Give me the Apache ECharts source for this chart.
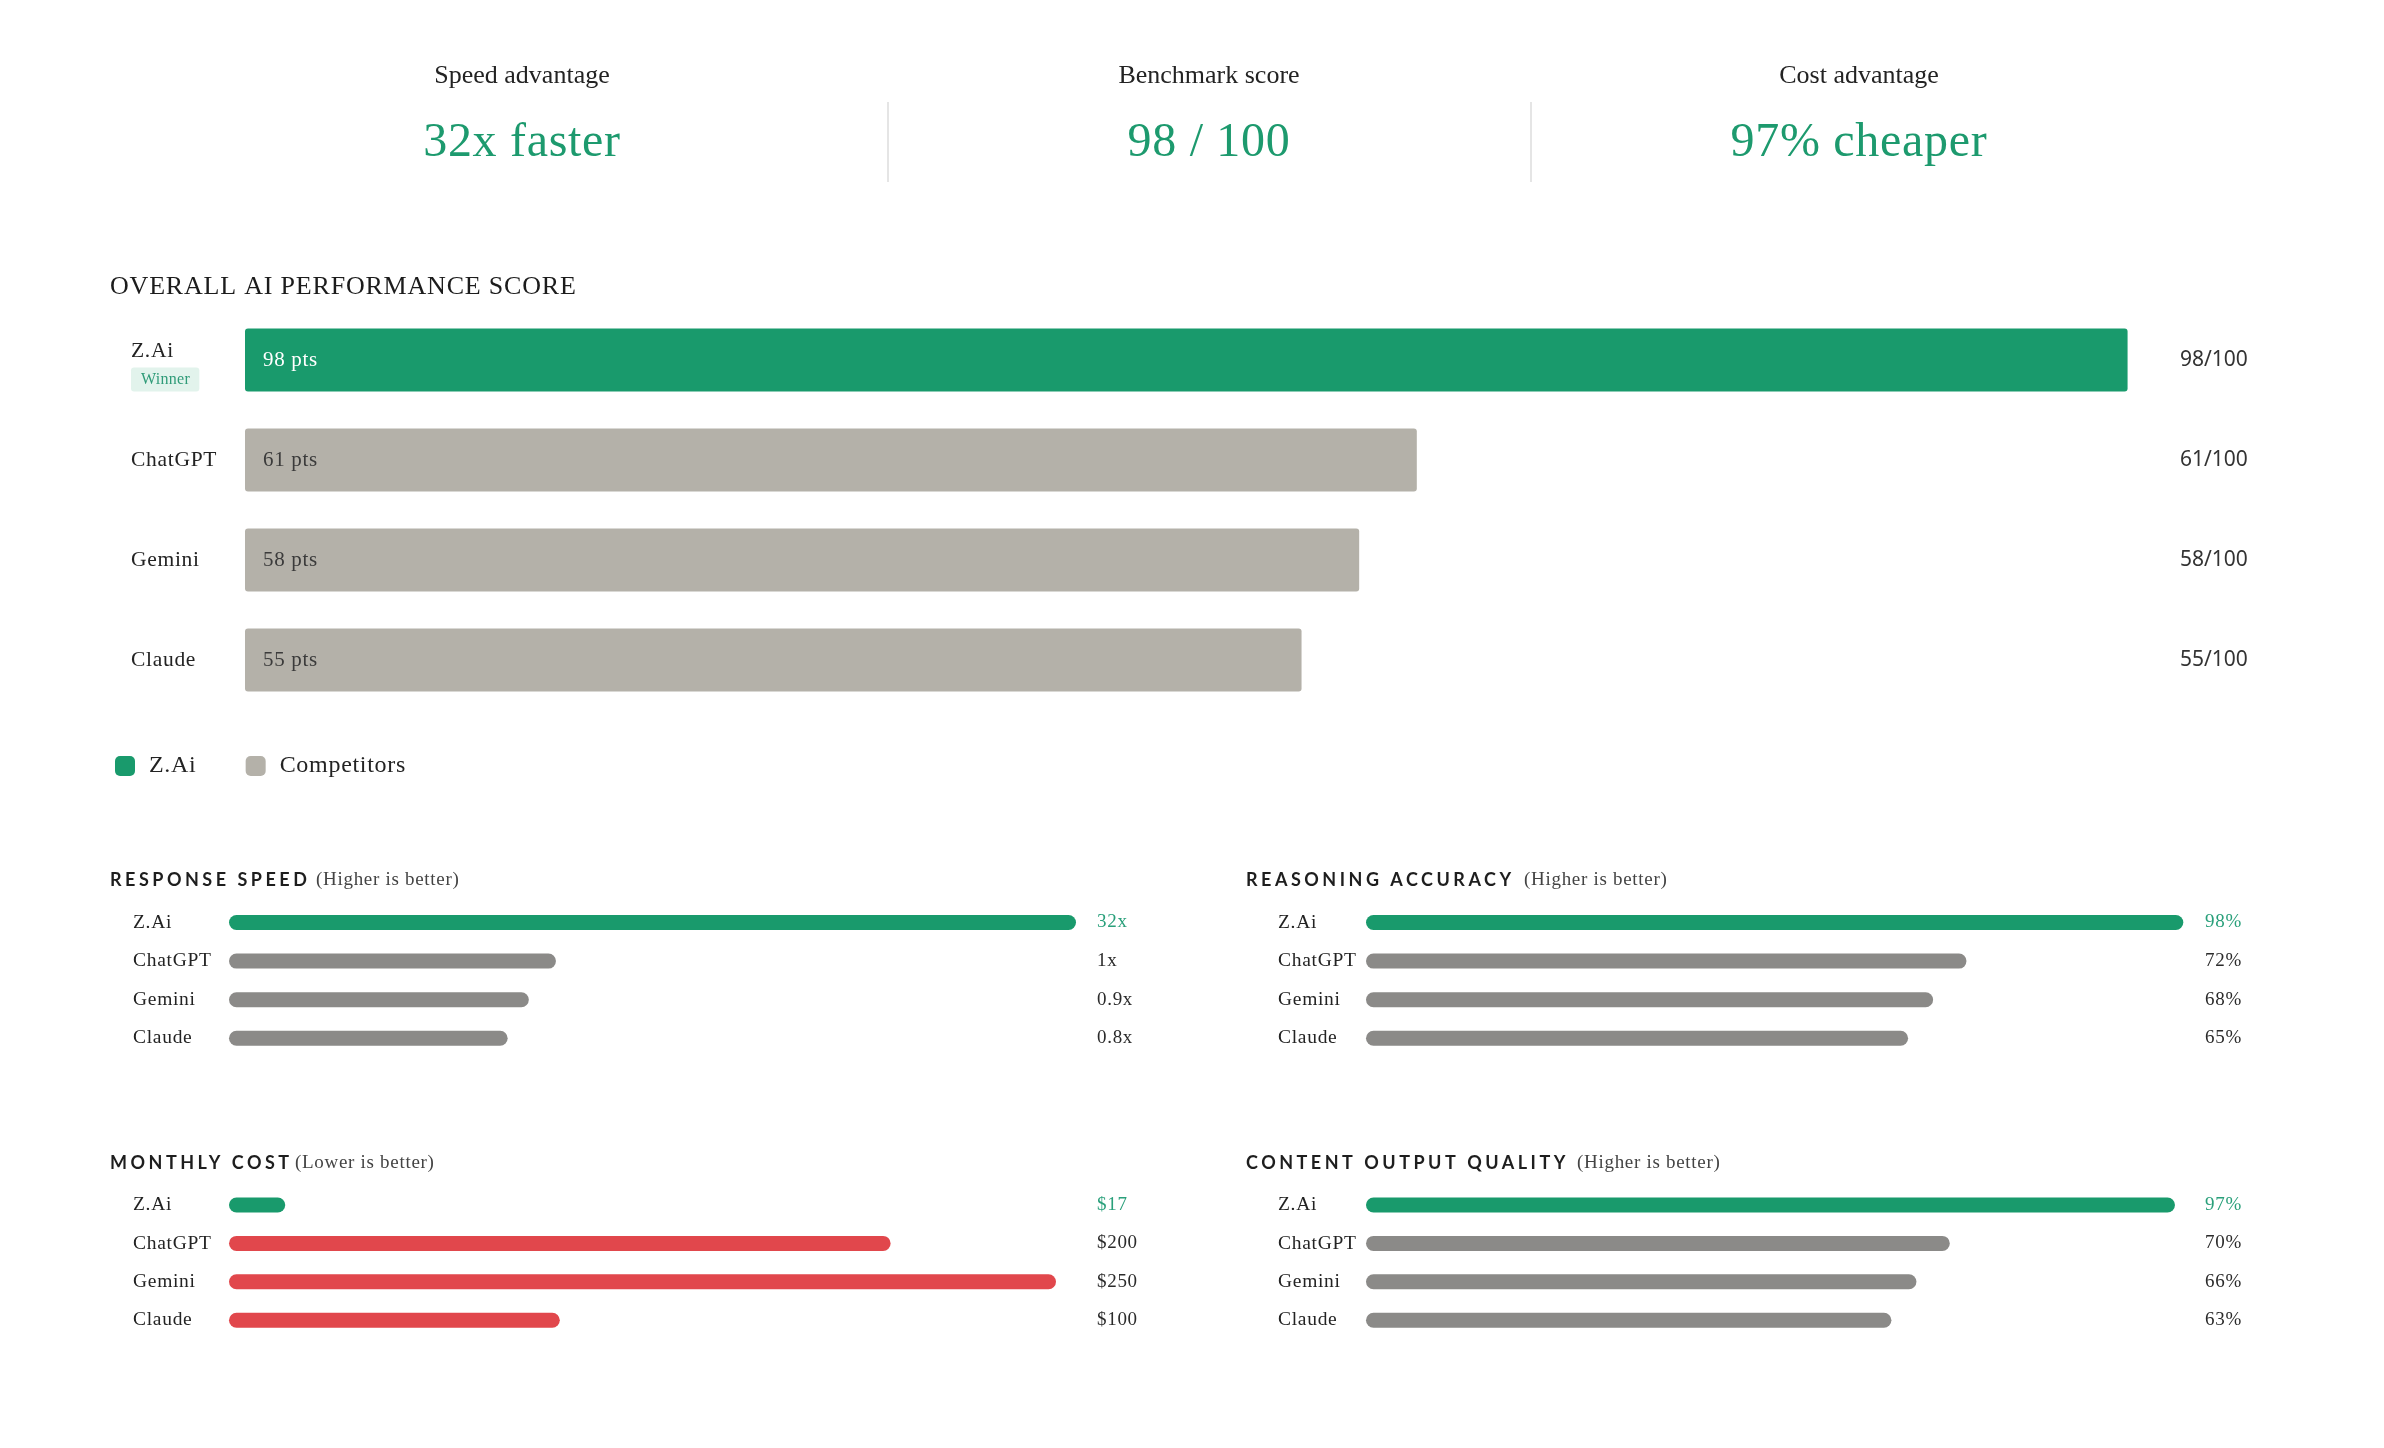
<!DOCTYPE html>
<html>
<head>
<meta charset="utf-8">
<script src="https://cdn.jsdelivr.net/npm/echarts@6/dist/echarts.min.js"></script>
<style>
html,body{margin:0;padding:0;background:#ffffff;}
#c{width:2384px;height:1448px;}
</style>
</head>
<body>
<div id="c"></div>
<script>
// ---------------- DATA ----------------
const models = ['Z.Ai', 'ChatGPT', 'Gemini', 'Claude'];
const kpiLabels = ['Speed advantage', 'Benchmark score', 'Cost advantage'];
const kpiValues = ['32x faster', '98 / 100', '97% cheaper'];
const overallTitle = 'OVERALL AI PERFORMANCE SCORE';
const overallScore = [98, 61, 58, 55];
const winnerBadge = 'Winner';
const legendNames = ['Z.Ai', 'Competitors'];
const speedLabels = ['32x', '1x', '0.9x', '0.8x'];
const speedBarLength = [100, 38.6, 35.4, 32.9];   // relative bar length
const accuracy = [98, 72, 68, 65];
const monthlyCost = [17, 200, 250, 100];
const quality = [97, 70, 66, 63];
const panelTitles = ['RESPONSE SPEED', 'REASONING ACCURACY', 'MONTHLY COST', 'CONTENT OUTPUT QUALITY'];
const panelNotes = ['(Higher is better)', '(Higher is better)', '(Lower is better)', '(Higher is better)'];

// ---------------- STYLE ----------------
const SERIF = '"Liberation Serif", "Times New Roman", serif';
const SANS = '"Noto Sans", "Open Sans", sans-serif';
const HEAD = 'Lato, "Noto Sans", sans-serif';
const GREEN = '#199a6c';
const GREEN_TXT = '#1d9a6e';
const GREEN_LABEL = '#2aa07b';
const GRAY_BIG = '#b4b1a9';
const GRAY_SMALL = '#8b8a88';
const RED = '#e1474c';
const DARK = '#232323';

// letter spacing (canvas letterSpacing): headings wider, serif body text slightly open
const SERIF_SPACING = '0.7px';
const LETTER_SPACING = {};
LETTER_SPACING[overallTitle] = '0.8px';
panelTitles.forEach(t => LETTER_SPACING[t] = '3.5px');
kpiLabels.forEach(t => LETTER_SPACING[t] = '0px');
LETTER_SPACING[winnerBadge] = '0.3px';
(function () {
  const proto = CanvasRenderingContext2D.prototype;
  const orig = proto.fillText;
  proto.fillText = function (t, x, y, w) {
    if (!('letterSpacing' in this)) {
      return w === undefined ? orig.call(this, t, x, y) : orig.call(this, t, x, y, w);
    }
    let ls = LETTER_SPACING[t];
    if (ls === undefined) ls = /Serif/.test(this.font) ? SERIF_SPACING : '0px';
    this.letterSpacing = ls;
    const r = w === undefined ? orig.call(this, t, x, y) : orig.call(this, t, x, y, w);
    this.letterSpacing = '0px';
    return r;
  };
})();

// ---------------- LAYOUT ----------------
const grids = [
  { left: 245, top: 310, width: 1921, height: 400 },
  { left: 229, top: 903.2, width: 847, height: 154.4 },
  { left: 1366, top: 903.2, width: 834, height: 154.4 },
  { left: 229, top: 1185.8, width: 827, height: 153.6 },
  { left: 1366, top: 1185.8, width: 834, height: 153.6 }
];
const xMax = [100, 100, 100, 250, 100];
const leftMargin = [114, 96, 88, 96, 88];
const rightMargin = [14, 21, 5, 41, 5];

const xAxes = grids.map((g, i) => ({
  type: 'value', gridIndex: i, min: 0, max: xMax[i], show: false,
  splitLine: { show: false }
}));

const yAxes = [];
// overall
yAxes.push({
  type: 'category', gridIndex: 0, inverse: true, data: models,
  axisLine: { show: false }, axisTick: { show: false }, splitLine: { show: false },
  axisLabel: {
    margin: leftMargin[0], align: 'left',
    formatter: function (v, i) {
      return i === 0 ? '{z|' + v + '}\n{w|' + winnerBadge + '}' : '{n|' + v + '}';
    },
    rich: {
      z: { fontSize: 21.5, fontFamily: SERIF, color: DARK, lineHeight: 39 },
      n: { fontSize: 21.5, fontFamily: SERIF, color: DARK, lineHeight: 26 },
      w: { fontSize: 16, fontFamily: SERIF, color: '#2f9b78', backgroundColor: '#e2f3ec',
           borderRadius: 3, padding: [4, 11, 4, 10], lineHeight: 17 }
    }
  }
});
yAxes.push({
  type: 'category', gridIndex: 0, inverse: true, position: 'right',
  data: overallScore.map(v => v + '/100'),
  axisLine: { show: false }, axisTick: { show: false }, splitLine: { show: false },
  axisLabel: { margin: rightMargin[0], align: 'left', fontSize: 21, fontFamily: SANS, color: '#333',
               padding: [8, 0, 0, 0] }
});
const rightTexts = [
  speedLabels,
  accuracy.map(v => v + '%'),
  monthlyCost.map(v => '$' + v),
  quality.map(v => v + '%')
];
for (let p = 0; p < 4; p++) {
  const gi = p + 1;
  yAxes.push({
    type: 'category', gridIndex: gi, inverse: true, data: models,
    axisLine: { show: false }, axisTick: { show: false }, splitLine: { show: false },
    axisLabel: { margin: leftMargin[gi], align: 'left', fontSize: 19.5, fontFamily: SERIF, color: DARK,
                 padding: [2, 0, 0, 0] }
  });
  yAxes.push({
    type: 'category', gridIndex: gi, inverse: true, position: 'right',
    data: rightTexts[p].map((t, i) => i === 0 ? { value: t, textStyle: { color: GREEN_LABEL } } : t),
    axisLine: { show: false }, axisTick: { show: false }, splitLine: { show: false },
    axisLabel: { margin: rightMargin[gi], align: 'left', fontSize: 19, fontFamily: SERIF, color: '#2b2b2b',
                 padding: [2, 0, 0, 0] }
  });
}

const series = [
  {
    name: legendNames[0], type: 'bar', xAxisIndex: 0, yAxisIndex: 0,
    data: overallScore.map((v, i) => i === 0 ? v : '-'),
    barWidth: 63, barGap: '-100%', silent: true,
    itemStyle: { color: GREEN, borderRadius: 3 },
    label: { show: true, position: 'insideLeft', distance: 18, formatter: '{c} pts',
             color: '#ffffff', fontSize: 21, fontFamily: SERIF }
  },
  {
    name: legendNames[1], type: 'bar', xAxisIndex: 0, yAxisIndex: 0,
    data: overallScore.map((v, i) => i === 0 ? '-' : v),
    barWidth: 63, barGap: '-100%', silent: true,
    itemStyle: { color: GRAY_BIG, borderRadius: 3 },
    label: { show: true, position: 'insideLeft', distance: 18, formatter: '{c} pts',
             color: '#3b3b3b', fontSize: 21, fontFamily: SERIF }
  }
];
const panelValues = [speedBarLength, accuracy, monthlyCost, quality];
const panelOther = [GRAY_SMALL, GRAY_SMALL, RED, GRAY_SMALL];
for (let p = 0; p < 4; p++) {
  const gi = p + 1;
  series.push({
    name: panelTitles[p], type: 'bar', xAxisIndex: gi, yAxisIndex: gi * 2,
    data: panelValues[p].map((v, i) => ({ value: v, itemStyle: { color: i === 0 ? GREEN : panelOther[p] } })),
    barWidth: 15, silent: true,
    itemStyle: { borderRadius: 7.5 }
  });
}

// ---------------- STATIC TEXT ----------------
const kpiX = [522, 1209, 1859];
const graphic = [];
kpiLabels.forEach((t, i) => graphic.push({
  type: 'text', x: kpiX[i], y: 76,
  style: { text: t, fontSize: 26, fontFamily: SERIF, fill: DARK, align: 'center', verticalAlign: 'middle' }
}));
kpiValues.forEach((t, i) => graphic.push({
  type: 'text', x: kpiX[i], y: 143,
  style: { text: t, fontSize: 48, fontFamily: SERIF, fill: GREEN_TXT, align: 'center', verticalAlign: 'middle' }
}));
[888, 1531].forEach(x => graphic.push({
  type: 'line', shape: { x1: x, y1: 102, x2: x, y2: 182 },
  style: { stroke: '#dcdcdc', lineWidth: 1.5 }
}));
graphic.push({
  type: 'text', x: 110, y: 287,
  style: { text: overallTitle, fontSize: 26, fontFamily: SERIF, fill: '#1c1c1c', align: 'left', verticalAlign: 'middle' }
});
const titlePos = [[110, 880, 316], [1246, 880, 1524], [110, 1163, 295], [1246, 1163, 1577]];
panelTitles.forEach((t, i) => {
  graphic.push({
    type: 'text', x: titlePos[i][0], y: titlePos[i][1],
    style: { text: t, fontSize: 18, fontWeight: 'bold', fontFamily: HEAD, fill: '#1e1e1e', align: 'left', verticalAlign: 'middle' }
  });
  graphic.push({
    type: 'text', x: titlePos[i][2], y: titlePos[i][1],
    style: { text: panelNotes[i], fontSize: 19, fontFamily: SERIF, fill: '#444', align: 'left', verticalAlign: 'middle' }
  });
});

const option = {
  backgroundColor: '#ffffff',
  animation: false,
  grid: grids.map(g => Object.assign({ containLabel: false, outerBoundsMode: 'none' }, g)),
  xAxis: xAxes,
  yAxis: yAxes,
  legend: {
    data: legendNames, left: 110, top: 749, itemWidth: 20, itemHeight: 20, itemGap: 52,
    icon: 'roundRect', selectedMode: false,
    textStyle: { fontSize: 24, fontFamily: SERIF, color: DARK, padding: [0, 0, 0, 9] }
  },
  tooltip: { show: false },
  graphic: graphic,
  series: series
};

const chart = echarts.init(document.getElementById('c'), null, { renderer: 'canvas', width: 2384, height: 1448 });
chart.setOption(option);
</script>
</body>
</html>
